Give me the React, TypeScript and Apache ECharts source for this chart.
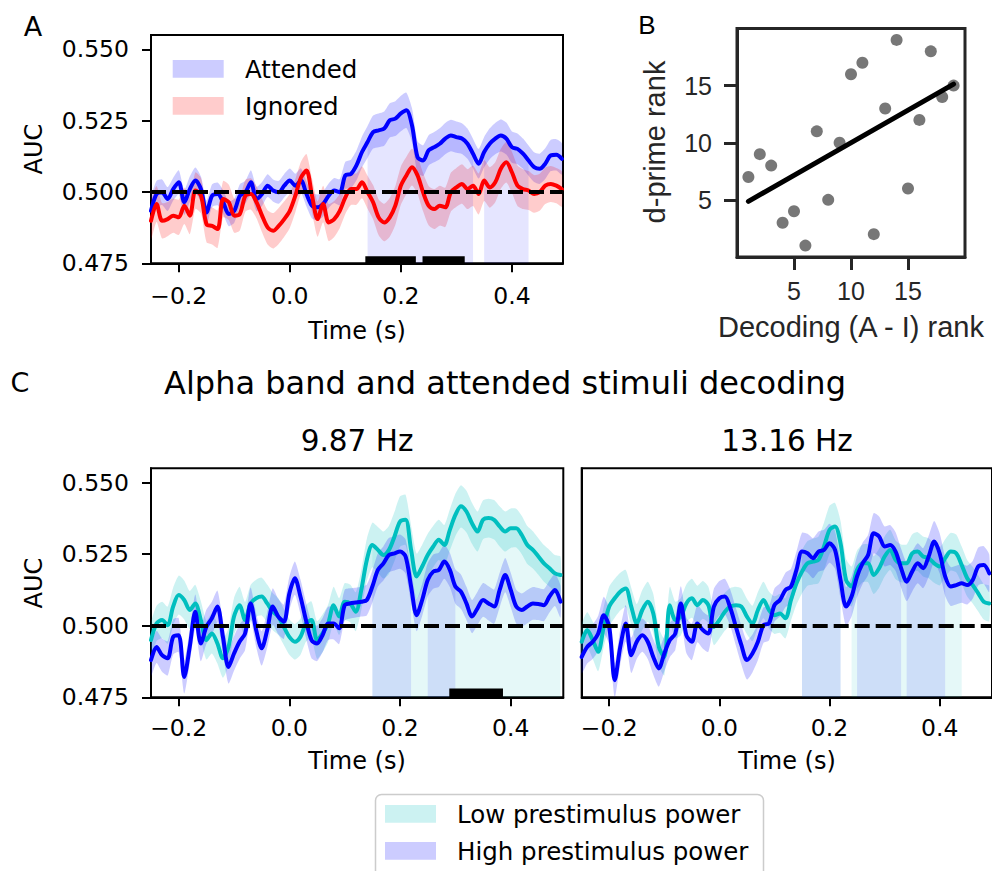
import React, { useEffect, useRef } from "react";
import * as echarts from "echarts";

// ---------- data ----------
const times = [
  -0.25, -0.24, -0.23, -0.22, -0.21, -0.2, -0.19, -0.18, -0.17, -0.16,
  -0.15, -0.14, -0.13, -0.12, -0.11, -0.1, -0.09, -0.08, -0.07, -0.06,
  -0.05, -0.04, -0.03, -0.02, -0.01, 0, 0.01, 0.02, 0.03, 0.04,
  0.05, 0.06, 0.07, 0.08, 0.09, 0.1, 0.11, 0.12, 0.13, 0.14,
  0.15, 0.16, 0.17, 0.18, 0.19, 0.2, 0.21, 0.22, 0.23, 0.24,
  0.25, 0.26, 0.27, 0.28, 0.29, 0.3, 0.31, 0.32, 0.33, 0.34,
  0.35, 0.36, 0.37, 0.38, 0.39, 0.4, 0.41, 0.42, 0.43, 0.44,
  0.45, 0.46, 0.47, 0.48, 0.49,
];

// Panel A
const attended = [
  0.4934, 0.4993, 0.4999, 0.4975, 0.501, 0.5034, 0.4964, 0.501, 0.504, 0.501,
  0.4928, 0.4987, 0.4993, 0.4964, 0.4923, 0.4934, 0.4987, 0.4999, 0.5034, 0.4975,
  0.4993, 0.5022, 0.5005, 0.4999, 0.5022, 0.504, 0.5022, 0.504, 0.4993, 0.4952,
  0.4946, 0.4958, 0.4987, 0.5005, 0.4999, 0.5058, 0.5063, 0.5093, 0.514, 0.5175,
  0.521, 0.5216, 0.5222, 0.5251, 0.5257, 0.5275, 0.5286, 0.5234, 0.5122, 0.511,
  0.5146, 0.5157, 0.5169, 0.5187, 0.5198, 0.5192, 0.5187, 0.5169, 0.5134, 0.5099,
  0.514, 0.5169, 0.5187, 0.5198, 0.5187, 0.5157, 0.5151, 0.5134, 0.511, 0.5087,
  0.5081, 0.5099, 0.5128, 0.513, 0.5116,
];
const attendedSem = [
  4.5, 4.6, 4.5, 4.2, 4.0, 4.2, 4.4, 4.5, 4.6, 4.4, 4.2, 4.0, 4.0, 4.2, 4.3, 4.2,
  4.0, 4.0, 4.2, 4.3, 4.2, 4.0, 3.9, 4.0, 4.1, 4.2, 4.2, 4.3, 4.4, 4.5, 4.5, 4.4, 4.3, 4.4, 4.6,
  4.8, 5.0, 5.2, 5.4, 5.6, 5.8, 5.9, 6.0, 6.0, 6.1, 6.2, 6.2, 6.0, 5.6, 5.4, 5.3, 5.3, 5.4, 5.5, 5.5,
  5.5, 5.4, 5.3, 5.2, 5.2, 5.3, 5.4, 5.5, 5.6, 5.6, 5.5, 5.4, 5.3, 5.3, 5.2, 5.3, 5.4, 5.5, 5.5, 5.5,
];
const ignored = [
  0.4899, 0.4958, 0.4899, 0.4905, 0.4917, 0.4911, 0.4952, 0.4917, 0.5005, 0.4987,
  0.4887, 0.4881, 0.487, 0.4975, 0.4964, 0.4917, 0.4923, 0.4987, 0.4993, 0.4964,
  0.4917, 0.4876, 0.4864, 0.4881, 0.4905, 0.4934, 0.4987, 0.505, 0.5075, 0.4987,
  0.4905, 0.4958, 0.4893, 0.4905, 0.4934, 0.4981, 0.501, 0.501, 0.5034, 0.4999,
  0.4964, 0.4911, 0.4893, 0.4911, 0.4952, 0.5022, 0.5058, 0.5087, 0.5058, 0.4999,
  0.4952, 0.494, 0.4952, 0.4946, 0.4999, 0.5016, 0.5028, 0.501, 0.5022, 0.4993,
  0.504, 0.5016, 0.5034, 0.5081, 0.5104, 0.5069, 0.5022, 0.501, 0.5005, 0.4993,
  0.4999, 0.5022, 0.5028, 0.5022, 0.501,
];
const ignoredSem = [
  6.5, 6.3, 6.2, 6.0, 6.0, 6.2, 6.4, 6.5, 6.4, 6.2, 6.3, 6.5, 6.6, 6.4, 6.2, 6.0,
  5.8, 5.6, 5.5, 5.6, 5.8, 6.0, 6.2, 6.3, 6.2, 6.0, 5.8, 5.6, 5.8, 6.0, 6.2, 6.4, 6.5, 6.3, 6.0,
  5.8, 5.6, 5.5, 5.6, 5.8, 6.0, 6.3, 6.6, 6.8, 6.8, 6.7, 6.5, 6.4, 6.5, 6.7, 6.9, 7.0, 7.0, 6.9, 6.8,
  6.8, 6.9, 7.0, 7.1, 7.2, 7.2, 7.1, 7.0, 7.0, 7.1, 7.2, 7.1, 7.0, 6.8, 6.6, 6.5, 6.4, 6.3, 6.2, 6.2,
];
const sigA = [[0.14, 0.33], [0.35, 0.43]];
const clustersA = [[0.136, 0.227], [0.239, 0.315]];

// Panel B
const decodingRank = [1, 2, 3, 4, 5, 6, 7, 8, 9, 10, 11, 12, 13, 14, 15, 16, 17, 18, 19];
const dprimeRank = [7, 9, 8, 3, 4, 1, 11, 5, 10, 16, 17, 2, 13, 19, 6, 12, 18, 14, 15];

// Panel C, 9.87 Hz
const lowL = [
  0.495, 0.5008, 0.502, 0.5002, 0.5067, 0.5107, 0.509, 0.5055, 0.5078, 0.502,
  0.495, 0.4973, 0.4938, 0.4886, 0.4926, 0.5032, 0.5072, 0.502, 0.5078, 0.5096,
  0.5102, 0.5078, 0.5049, 0.5032, 0.4996, 0.4961, 0.4944, 0.4961, 0.5008, 0.502,
  0.495, 0.4973, 0.5008, 0.5072, 0.5032, 0.5084, 0.5078, 0.5049, 0.5125, 0.523,
  0.5282, 0.5265, 0.5247, 0.5265, 0.5312, 0.5364, 0.537, 0.5265, 0.5172, 0.5207,
  0.5247, 0.5277, 0.53, 0.5282, 0.5335, 0.5387, 0.5417, 0.5399, 0.5358, 0.5329,
  0.537, 0.5376, 0.537, 0.5347, 0.5329, 0.5341, 0.5341, 0.5317, 0.5282, 0.5265,
  0.5242, 0.5218, 0.5201, 0.5183, 0.5177,
];
const lowLSem = [
  6.0, 6.2, 6.4, 6.5, 6.6, 6.8, 6.8, 6.6, 6.5, 6.6, 6.8, 7.0, 7.0, 6.8, 6.6, 6.5,
  6.4, 6.3, 6.4, 6.5, 6.6, 6.6, 6.5, 6.4, 6.3, 6.2, 6.2, 6.3, 6.4, 6.5, 6.6, 6.6, 6.5, 6.4, 6.4,
  6.5, 6.6, 6.8, 7.0, 7.4, 7.8, 8.0, 8.2, 8.4, 8.6, 8.8, 8.8, 8.5, 8.0, 7.6, 7.4, 7.2, 7.0, 7.0, 7.2,
  7.4, 7.4, 7.3, 7.2, 7.0, 6.8, 6.8, 6.9, 7.0, 7.0, 6.9, 6.8, 6.7, 6.6, 6.5, 6.4, 6.4, 6.4, 6.4, 6.4,
];
const highL = [
  0.488, 0.4926, 0.4897, 0.4886, 0.4961, 0.4967, 0.4821, 0.4926, 0.5049, 0.4938,
  0.4996, 0.5026, 0.5067, 0.4961, 0.4856, 0.4903, 0.4944, 0.4973, 0.5078, 0.4985,
  0.4921, 0.4985, 0.5067, 0.5032, 0.5014, 0.5113, 0.5166, 0.5102, 0.502, 0.495,
  0.4938, 0.4967, 0.5008, 0.5008, 0.4991, 0.5072, 0.5078, 0.5081, 0.5084, 0.509,
  0.5137, 0.5195, 0.5218, 0.5247, 0.5253, 0.5259, 0.5242, 0.5137, 0.5037, 0.509,
  0.516, 0.5189, 0.5195, 0.5224, 0.5195, 0.5137, 0.5119, 0.5078, 0.5032, 0.5061,
  0.509, 0.5078, 0.5067, 0.5125, 0.5177, 0.5125, 0.5067, 0.5055, 0.5067, 0.5078,
  0.5076, 0.5072, 0.5102, 0.5125, 0.5084,
];
const highLSem = [
  5.5, 5.6, 5.8, 6.0, 6.2, 6.0, 5.8, 5.8, 6.0, 6.2, 6.0, 5.8, 5.6, 5.6, 5.8, 6.0,
  6.0, 5.8, 5.6, 5.8, 6.0, 6.2, 6.4, 6.2, 6.0, 5.8, 5.8, 6.0, 6.2, 6.4, 6.2, 6.0, 5.8, 5.6, 5.5,
  5.4, 5.3, 5.2, 5.2, 5.4, 5.6, 5.8, 6.0, 6.0, 6.0, 6.0, 6.0, 5.8, 5.6, 5.6, 5.8, 6.0, 6.0, 6.0, 6.0,
  6.0, 6.0, 5.8, 5.8, 5.8, 5.9, 6.0, 6.0, 6.0, 6.0, 6.0, 5.9, 5.8, 5.8, 5.7, 5.6, 5.6, 5.6, 5.6, 5.6,
];
const sigLowL = [[0.15, 0.49]];
const sigHighL = [[0.15, 0.22], [0.25, 0.3]];
const clustersL = [[0.289, 0.386]];

// Panel C, 13.16 Hz
const lowR = [
  0.4944, 0.4985, 0.495, 0.4909, 0.4996, 0.5067, 0.5096, 0.5119, 0.513, 0.5067,
  0.5008, 0.5055, 0.5084, 0.5043, 0.4926, 0.4891, 0.5072, 0.502, 0.5032, 0.5078,
  0.5096, 0.5072, 0.509, 0.5072, 0.4996, 0.502, 0.5049, 0.5067, 0.5072, 0.5067,
  0.5032, 0.5008, 0.5055, 0.509, 0.5055, 0.5037, 0.5043, 0.5026, 0.509, 0.5148,
  0.5189, 0.5218, 0.5224, 0.523, 0.5277, 0.5335, 0.5347, 0.5288, 0.516, 0.5137,
  0.5195, 0.5218, 0.5218, 0.5177, 0.5201, 0.5242, 0.5265, 0.523, 0.5218, 0.5218,
  0.5253, 0.5259, 0.5242, 0.5236, 0.5218, 0.5207, 0.5236, 0.5259, 0.5253, 0.5212,
  0.5166, 0.5142, 0.5113, 0.5084, 0.5078,
];
const lowRSem = [
  6.0, 6.2, 6.5, 6.8, 7.0, 7.0, 6.8, 6.6, 6.5, 6.6, 6.8, 7.0, 7.0, 6.8, 6.6, 6.5,
  6.4, 6.4, 6.5, 6.6, 6.8, 6.8, 6.6, 6.4, 6.4, 6.5, 6.6, 6.5, 6.4, 6.3, 6.2, 6.2, 6.3, 6.4, 6.5,
  6.6, 6.8, 7.0, 7.2, 7.4, 7.6, 7.8, 8.0, 8.2, 8.4, 8.4, 8.2, 7.8, 7.4, 7.0, 6.8, 6.6, 6.6, 6.6, 6.8,
  7.0, 7.0, 6.8, 6.6, 6.6, 6.6, 6.8, 7.0, 7.0, 6.8, 6.6, 6.6, 6.6, 6.6, 6.5, 6.4, 6.4, 6.3, 6.2, 6.2,
];
const highR = [
  0.4891, 0.4926, 0.4944, 0.4973, 0.5037, 0.4996, 0.481, 0.4926, 0.5008, 0.4897,
  0.4944, 0.4967, 0.4944, 0.4891, 0.4851, 0.4903, 0.495, 0.4973, 0.5078, 0.4967,
  0.4944, 0.5008, 0.4985, 0.4973, 0.5067, 0.5096, 0.5102, 0.5061, 0.4996, 0.4932,
  0.488, 0.4903, 0.4944, 0.5002, 0.5008, 0.5072, 0.509, 0.5125, 0.5137, 0.5195,
  0.5259, 0.5253, 0.5236, 0.5259, 0.5265, 0.5288, 0.5265, 0.516, 0.5067, 0.5102,
  0.5172, 0.5218, 0.5247, 0.5323, 0.5312, 0.5277, 0.5282, 0.5259, 0.5201, 0.5154,
  0.5189, 0.5218, 0.5201, 0.5242, 0.5294, 0.5253, 0.5172, 0.5137, 0.5142, 0.5148,
  0.5142, 0.516, 0.5207, 0.5212, 0.5183,
];
const highRSem = [
  5.8, 5.8, 6.0, 6.2, 6.4, 6.2, 6.0, 6.2, 6.4, 6.2, 6.0, 5.8, 6.0, 6.2, 6.4, 6.2,
  6.0, 5.8, 6.0, 6.2, 6.4, 6.6, 6.5, 6.4, 6.2, 6.0, 6.2, 6.4, 6.6, 6.8, 6.8, 6.6, 6.4, 6.2, 6.0,
  5.8, 5.8, 6.0, 6.2, 6.4, 6.6, 6.8, 7.0, 7.0, 7.0, 6.8, 6.6, 6.6, 6.8, 7.0, 7.2, 7.2, 7.0, 7.0, 7.0,
  7.0, 7.0, 6.8, 6.8, 6.8, 7.0, 7.0, 7.0, 7.2, 7.2, 7.0, 6.8, 6.8, 6.8, 6.8, 6.8, 6.6, 6.6, 6.6, 6.6,
];
const sigLowR = [[0.15, 0.22], [0.24, 0.44]];
const sigHighR = [[0.15, 0.22], [0.25, 0.33], [0.34, 0.41]];

const timeTicks = [-0.2, 0, 0.2, 0.4];
const aucTicks = [0.475, 0.5, 0.525, 0.55];
const rankTicks = [5, 10, 15];

// ---------- styling ----------
const FONT = "DejaVu Sans";
const BFONT = "Liberation Sans";
const BLUE = "#0000ff";
const RED = "#ff0000";
const CYAN = "#00bfbf";
const BLUE_BAND = "rgba(0,0,255,0.2)";
const RED_BAND = "rgba(255,0,0,0.2)";
const CYAN_BAND = "rgba(0,191,191,0.2)";
const BLUE_SIG = "rgba(0,0,255,0.1)";
const CYAN_SIG = "rgba(0,191,191,0.1)";
const GRAY_TXT = "#262626";
const SMOOTH = 0.3;

const fmtTime = (v: number) => (v < 0 ? "\u2212" : "") + Math.abs(v).toFixed(1);
const fmtAuc = (v: number) => v.toFixed(3);

function timeAxis(gridIndex: number, max: number, margin: number) {
  return {
    type: "value",
    gridIndex,
    min: -0.25,
    max,
    splitLine: { show: false },
    axisLine: { show: true, onZero: false, lineStyle: { color: "#000", width: 2 } },
    axisTick: { show: true, customValues: timeTicks, length: 9, lineStyle: { color: "#000", width: 2 } },
    axisLabel: {
      customValues: timeTicks,
      formatter: fmtTime,
      fontFamily: FONT,
      fontSize: 23.5,
      color: "#000",
      margin,
    },
  };
}
function aucAxis(gridIndex: number, showLabels: boolean) {
  return {
    type: "value",
    gridIndex,
    min: 0.475,
    max: 0.555,
    splitLine: { show: false },
    axisLine: { show: true, onZero: false, lineStyle: { color: "#000", width: 2 } },
    axisTick: { show: showLabels, customValues: aucTicks, length: 9, lineStyle: { color: "#000", width: 2 } },
    axisLabel: {
      show: showLabels,
      customValues: aucTicks,
      formatter: fmtAuc,
      fontFamily: FONT,
      fontSize: 23.5,
      color: "#000",
      margin: 22,
    },
  };
}
function rankAxis(gridIndex: number, margin: number) {
  return {
    type: "value",
    gridIndex,
    min: 0,
    max: 20,
    splitLine: { show: false },
    axisLine: { show: true, onZero: false, lineStyle: { color: GRAY_TXT, width: 3 } },
    axisTick: { show: true, customValues: rankTicks, length: 13, lineStyle: { color: GRAY_TXT, width: 3 } },
    axisLabel: {
      customValues: rankTicks,
      formatter: (v: number) => String(v),
      fontFamily: BFONT,
      fontSize: 25,
      color: GRAY_TXT,
      margin,
    },
  };
}

function bandSeries(g: number, mean: number[], sem: number[], fill: string) {
  const lo = mean.map((m, i) => m - sem[i] / 1000);
  const hi = mean.map((m, i) => m + sem[i] / 1000);
  return {
    type: "custom",
    xAxisIndex: g,
    yAxisIndex: g,
    silent: true,
    clip: true,
    data: times.map((t, i) => [t, lo[i], hi[i]]),
    encode: { x: 0, y: [1, 2] },
    renderItem: (params: any, api: any) => {
      if (params.dataIndex !== 0) return null;
      const pts: number[][] = [];
      for (let i = 0; i < times.length; i++) pts.push(api.coord([times[i], hi[i]]));
      for (let i = times.length - 1; i >= 0; i--) pts.push(api.coord([times[i], lo[i]]));
      return { type: "polygon", shape: { points: pts, smooth: 0.2 }, style: { fill, stroke: "none" } };
    },
  };
}
function lineSeries(g: number, mean: number[], color: string) {
  return {
    type: "line",
    xAxisIndex: g,
    yAxisIndex: g,
    silent: true,
    symbol: "none",
    smooth: SMOOTH,
    data: times.map((t, i) => [t, mean[i]]),
    lineStyle: { color, width: 4, join: "round", cap: "round" },
  };
}
function sigSeries(g: number, mean: number[], ranges: number[][], fill: string) {
  return ranges.map(([a, b]) => ({
    type: "line",
    xAxisIndex: g,
    yAxisIndex: g,
    silent: true,
    symbol: "none",
    smooth: SMOOTH,
    data: times
      .map((t, i) => [t, mean[i]])
      .filter(([t]) => t >= a - 1e-9 && t <= b + 1e-9),
    lineStyle: { width: 0, opacity: 0 },
    areaStyle: { color: fill, opacity: 1, origin: "start" },
  }));
}
function refSeries(g: number, clusters: number[][], barTop: number) {
  return {
    type: "line",
    xAxisIndex: g,
    yAxisIndex: g,
    silent: true,
    z: 5,
    data: [],
    markLine: {
      silent: true,
      z: 6,
      symbol: "none",
      label: { show: false },
      lineStyle: { color: "#000", width: 4, type: [15, 6] },
      data: [{ yAxis: 0.5 }],
    },
    markArea: {
      silent: true,
      z: 10,
      itemStyle: { color: "#000", opacity: 1 },
      label: { show: false },
      data: clusters.map(([a, b]) => [{ coord: [a, 0.475] }, { coord: [b, barTop] }]),
    },
  };
}

function regression(xs: number[], ys: number[]) {
  const n = xs.length;
  const mx = xs.reduce((s, v) => s + v, 0) / n;
  const my = ys.reduce((s, v) => s + v, 0) / n;
  let sxy = 0;
  let sxx = 0;
  for (let i = 0; i < n; i++) {
    sxy += (xs[i] - mx) * (ys[i] - my);
    sxx += (xs[i] - mx) * (xs[i] - mx);
  }
  const slope = sxy / sxx;
  const icpt = my - slope * mx;
  const x0 = Math.min(...xs);
  const x1 = Math.max(...xs);
  return [
    [x0, icpt + slope * x0],
    [x1, icpt + slope * x1],
  ];
}

function txt(text: string, x: number, y: number, fontSize: number, opts: any = {}) {
  return {
    type: "text",
    x,
    y,
    rotation: opts.rotation || 0,
    z: 100,
    silent: true,
    style: {
      text,
      fontSize,
      fontFamily: opts.font || FONT,
      fill: opts.color || "#000",
      align: opts.align || "center",
      verticalAlign: "middle",
    },
  };
}
function patch(x: number, y: number, fill: string) {
  return { type: "rect", z: 100, silent: true, shape: { x, y, width: 51, height: 17.7 }, style: { fill } };
}

export default function App() {
  const ref = useRef<HTMLDivElement>(null);
  useEffect(() => {
    if (!ref.current) return;
    const chart = echarts.init(ref.current, null, { renderer: "svg" });
    const series: any[] = [
      // Panel A
      ...sigSeries(0, attended, sigA, BLUE_SIG),
      bandSeries(0, attended, attendedSem, BLUE_BAND),
      bandSeries(0, ignored, ignoredSem, RED_BAND),
      lineSeries(0, attended, BLUE),
      lineSeries(0, ignored, RED),
      refSeries(0, clustersA, 0.4775),
      // Panel B
      {
        type: "scatter",
        xAxisIndex: 1,
        yAxisIndex: 1,
        silent: true,
        symbolSize: 12,
        itemStyle: { color: "#777777", opacity: 1 },
        data: decodingRank.map((x, i) => [x, dprimeRank[i]]),
      },
      {
        type: "line",
        xAxisIndex: 1,
        yAxisIndex: 1,
        silent: true,
        symbol: "none",
        z: 4,
        data: regression(decodingRank, dprimeRank),
        lineStyle: { color: "#000", width: 5, cap: "round" },
      },
      // Panel C left
      ...sigSeries(2, lowL, sigLowL, CYAN_SIG),
      ...sigSeries(2, highL, sigHighL, BLUE_SIG),
      bandSeries(2, lowL, lowLSem, CYAN_BAND),
      bandSeries(2, highL, highLSem, BLUE_BAND),
      lineSeries(2, lowL, CYAN),
      lineSeries(2, highL, BLUE),
      refSeries(2, clustersL, 0.4781),
      // Panel C right
      ...sigSeries(3, lowR, sigLowR, CYAN_SIG),
      ...sigSeries(3, highR, sigHighR, BLUE_SIG),
      bandSeries(3, lowR, lowRSem, CYAN_BAND),
      bandSeries(3, highR, highRSem, BLUE_BAND),
      lineSeries(3, lowR, CYAN),
      lineSeries(3, highR, BLUE),
      refSeries(3, [], 0.4781),
    ];

    const option: any = {
      animation: false,
      textStyle: { fontFamily: FONT },
      grid: [
        { left: 151, top: 35, width: 412, height: 228.3, show: true, borderColor: "#000", borderWidth: 2, backgroundColor: "transparent" },
        { left: 737, top: 28.5, width: 228, height: 228.5, show: true, borderColor: GRAY_TXT, borderWidth: 3, backgroundColor: "transparent" },
        { left: 151, top: 468.3, width: 412.3, height: 229, show: true, borderColor: "#000", borderWidth: 2, backgroundColor: "transparent" },
        { left: 581.7, top: 468.3, width: 411, height: 229, show: true, borderColor: "#000", borderWidth: 2, backgroundColor: "transparent" },
      ],
      xAxis: [timeAxis(0, 0.492, 21), rankAxis(1, 21.5), timeAxis(2, 0.495, 18.5), timeAxis(3, 0.495, 18.5)],
      yAxis: [aucAxis(0, true), rankAxis(1, 25), aucAxis(2, true), aucAxis(3, false)],
      series,
      graphic: [
        txt("A", 33, 26, 27),
        txt("B", 647, 25, 26, { font: BFONT }),
        txt("C", 20, 382, 27),
        txt("Alpha band and attended stimuli decoding", 505, 383, 32),
        txt("9.87 Hz", 357, 441, 29.5),
        txt("13.16 Hz", 787, 441, 29.5),
        txt("AUC", 34, 149, 24, { rotation: Math.PI / 2 }),
        txt("AUC", 34, 583, 24, { rotation: Math.PI / 2 }),
        txt("Time (s)", 357, 331, 24),
        txt("Time (s)", 357, 761, 24),
        txt("Time (s)", 787, 761, 24),
        txt("Decoding (A - I) rank", 851, 327, 29, { font: BFONT, color: GRAY_TXT }),
        txt("d-prime rank", 655, 142, 29, { font: BFONT, color: GRAY_TXT, rotation: Math.PI / 2 }),
        // legend A
        patch(172.7, 60, BLUE_BAND),
        patch(172.7, 97, RED_BAND),
        txt("Attended", 245, 69, 24.5, { align: "left" }),
        txt("Ignored", 245, 106, 24.5, { align: "left" }),
        // legend C
        {
          type: "rect",
          z: 99,
          silent: true,
          shape: { x: 375.5, y: 794.5, width: 388, height: 90, r: 6 },
          style: { fill: "rgba(255,255,255,0.8)", stroke: "#cccccc", lineWidth: 1.5 },
        },
        patch(385, 805, CYAN_BAND),
        patch(385, 842, BLUE_BAND),
        txt("Low prestimulus power", 457, 814, 24.5, { align: "left" }),
        txt("High prestimulus power", 457, 851, 24.5, { align: "left" }),
      ],
    };
    chart.setOption(option);
    return () => chart.dispose();
  }, []);
  return (
    <div
      ref={ref}
      style={{ position: "absolute", left: 0, top: 0, width: 992, height: 871, background: "#fff" }}
    />
  );
}
